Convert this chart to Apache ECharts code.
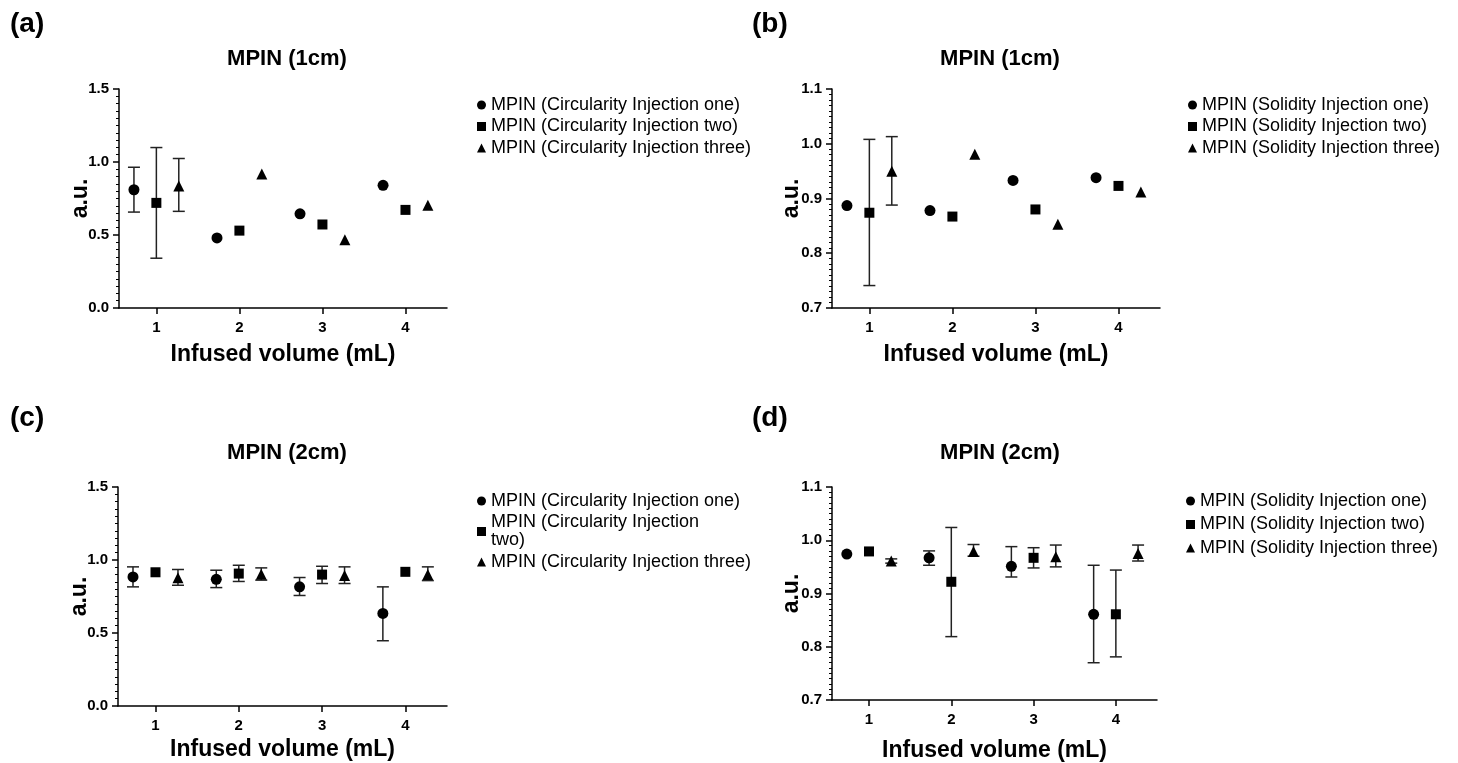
<!DOCTYPE html>
<html>
<head>
<meta charset="utf-8">
<script src="https://cdn.jsdelivr.net/npm/echarts@6/dist/echarts.min.js"></script>
<style>
html,body{margin:0;padding:0;background:#fff;}
#chart{width:1458px;height:763px;}
</style>
</head>
<body>
<div id="chart"></div>
<script>
// ---------- DATA ----------
const volumes = [1, 2, 3, 4];
const xTickLabels = [1, 2, 3, 4];

const panelLetters = ['(a)', '(b)', '(c)', '(d)'];
const panelTitles = ['MPIN (1cm)', 'MPIN (1cm)', 'MPIN (2cm)', 'MPIN (2cm)'];
const xAxisTitle = 'Infused volume (mL)';
const yAxisTitle = 'a.u.';

const circNames = ['MPIN (Circularity Injection one)', 'MPIN (Circularity Injection two)', 'MPIN (Circularity Injection three)'];
const solNames = ['MPIN (Solidity Injection one)', 'MPIN (Solidity Injection two)', 'MPIN (Solidity Injection three)'];

// Panel (a): circularity, 1cm
const aOne = [0.81, 0.48, 0.645, 0.84];
const aOneErr = [[0.657, 0.964], null, null, null];
const aTwo = [0.72, 0.53, 0.572, 0.672];
const aTwoErr = [[0.341, 1.099], null, null, null];
const aThree = [0.835, 0.918, 0.467, 0.703];
const aThreeErr = [[0.662, 1.024], null, null, null];

// Panel (b): solidity, 1cm
const bOne = [0.887, 0.878, 0.933, 0.938];
const bOneErr = [null, null, null, null];
const bTwo = [0.874, 0.867, 0.880, 0.923];
const bTwoErr = [[0.741, 1.008], null, null, null];
const bThree = [0.950, 0.981, 0.853, 0.912];
const bThreeErr = [[0.888, 1.013], null, null, null];

// Panel (c): circularity, 2cm
const cOne = [0.884, 0.868, 0.816, 0.634];
const cOneErr = [[0.816, 0.953], [0.811, 0.930], [0.757, 0.880], [0.447, 0.816]];
const cTwo = [0.916, 0.907, 0.900, 0.919];
const cTwoErr = [null, [0.853, 0.964], [0.839, 0.957], null];
const cThree = [0.878, 0.903, 0.894, 0.900];
const cThreeErr = [[0.827, 0.935], [0.862, 0.946], [0.839, 0.953], [0.859, 0.953]];

// Panel (d): solidity, 2cm
const dOne = [0.974, 0.967, 0.951, 0.861];
const dOneErr = [null, [0.953, 0.980], [0.931, 0.988], [0.770, 0.953]];
const dTwo = [0.979, 0.922, 0.967, 0.861];
const dTwoErr = [null, [0.819, 1.024], [0.948, 0.986], [0.781, 0.944]];
const dThree = [0.961, 0.979, 0.969, 0.975];
const dThreeErr = [[0.957, 0.965], [0.970, 0.992], [0.950, 0.991], [0.961, 0.991]];

const yRanges = [[0, 1.5, 0.5], [0.7, 1.1, 0.1], [0, 1.5, 0.5], [0.7, 1.1, 0.1]];

// ---------- LAYOUT / STYLE ----------
const FONT = '"Liberation Sans", Arial, sans-serif';
const DODGE = 0.27;
const symbols = ['circle', 'rect', 'triangle'];
const symbolSizes = [11, 10, 11];
const grids = [
  {left: 119, top: 89, width: 328, height: 219, outerBoundsMode: 'none'},
  {left: 832, top: 89, width: 328, height: 219, outerBoundsMode: 'none'},
  {left: 118, top: 487, width: 329, height: 219, outerBoundsMode: 'none'},
  {left: 832, top: 487, width: 325, height: 213, outerBoundsMode: 'none'}
];
const panels = [
  {names: circNames, vals: [aOne, aTwo, aThree], errs: [aOneErr, aTwoErr, aThreeErr]},
  {names: solNames, vals: [bOne, bTwo, bThree], errs: [bOneErr, bTwoErr, bThreeErr]},
  {names: circNames, vals: [cOne, cTwo, cThree], errs: [cOneErr, cTwoErr, cThreeErr]},
  {names: solNames, vals: [dOne, dTwo, dThree], errs: [dOneErr, dTwoErr, dThreeErr]}
];
const letterPos = [[5, 5], [747, 5], [5, 399], [747, 399]];
const titlePos = [[282, 43], [995, 43], [282, 437], [995, 437]];
const legendPos = [[472, 91], [1183, 91], [472, 487], [1181, 487]];
const xNameGap = [35, 35, 32, 39];
const yNameGap = [27, 29, 27, 29];

const titles = [];
panelLetters.forEach((t, i) => titles.push({
  text: t, left: letterPos[i][0], top: letterPos[i][1],
  textStyle: {fontFamily: FONT, fontSize: 28, fontWeight: 'bold', color: '#000'}
}));
panelTitles.forEach((t, i) => titles.push({
  text: t, left: titlePos[i][0], top: titlePos[i][1], textAlign: 'center',
  textStyle: {fontFamily: FONT, fontSize: 22, fontWeight: 'bold', color: '#000'}
}));

const xAxes = [], yAxes = [], series = [], legends = [];
grids.forEach((g, i) => {
  xAxes.push({
    type: 'value', gridIndex: i, min: 0.55, max: 4.5,
    name: xAxisTitle, nameLocation: 'middle', nameGap: xNameGap[i], nameMoveOverlap: false,
    nameTextStyle: {fontFamily: FONT, fontSize: 23, fontWeight: 'bold', color: '#000'},
    axisLine: {show: true, onZero: false, lineStyle: {color: '#000', width: 1.5}},
    axisTick: {show: true, length: 6, customValues: xTickLabels, lineStyle: {color: '#000', width: 1.5}},
    axisLabel: {customValues: xTickLabels, fontFamily: FONT, fontSize: 15, fontWeight: 'bold', color: '#000', margin: 12},
    splitLine: {show: false}
  });
  const r = yRanges[i];
  yAxes.push({
    type: 'value', gridIndex: i, min: r[0], max: r[1], interval: r[2],
    name: yAxisTitle, nameLocation: 'middle', nameGap: yNameGap[i], nameMoveOverlap: false,
    nameTextStyle: {fontFamily: FONT, fontSize: 23, fontWeight: 'bold', color: '#000'},
    axisLine: {show: true, onZero: false, lineStyle: {color: '#000', width: 1.5}},
    axisTick: {show: true, length: 6, lineStyle: {color: '#000', width: 1.5}},
    minorTick: {show: true, splitNumber: 10, length: 3, lineStyle: {color: '#000', width: 1}},
    axisLabel: {fontFamily: FONT, fontSize: 15, fontWeight: 'bold', color: '#000', margin: 10,
      formatter: v => v.toFixed(1)},
    splitLine: {show: false}
  });
  const p = panels[i];
  for (let k = 0; k < 3; k++) {
    const errData = [];
    p.errs[k].forEach((e, j) => { if (e) errData.push([volumes[j] + (k - 1) * DODGE, e[0], e[1]]); });
    series.push({
      type: 'custom', name: 'err' + i + k, xAxisIndex: i, yAxisIndex: i, z: 1,
      silent: true, data: errData,
      renderItem: function (params, api) {
        const x = api.value(0);
        const lo = api.coord([x, api.value(1)]);
        const hi = api.coord([x, api.value(2)]);
        const cw = 6;
        const st = {stroke: '#222', lineWidth: 1.5};
        return {type: 'group', children: [
          {type: 'line', shape: {x1: lo[0], y1: lo[1], x2: hi[0], y2: hi[1]}, style: st},
          {type: 'line', shape: {x1: lo[0] - cw, y1: lo[1], x2: lo[0] + cw, y2: lo[1]}, style: st},
          {type: 'line', shape: {x1: hi[0] - cw, y1: hi[1], x2: hi[0] + cw, y2: hi[1]}, style: st}
        ]};
      }
    });
    series.push({
      type: 'scatter', name: p.names[k], xAxisIndex: i, yAxisIndex: i, z: 3,
      symbol: symbols[k], symbolSize: symbolSizes[k],
      itemStyle: {color: '#000', opacity: 1},
      data: p.vals[k].map((v, j) => [volumes[j] + (k - 1) * DODGE, v])
    });
  }
  legends.push({
    orient: 'vertical', left: legendPos[i][0], top: legendPos[i][1],
    itemWidth: 9, itemHeight: 9, itemGap: i === 3 ? 5.5 : 3.5, selectedMode: false,
    data: p.names.map((n, k) => ({name: n, icon: symbols[k]})),
    formatter: i === 2 ? (n => n === circNames[1] ? 'MPIN (Circularity Injection\ntwo)' : n) : '{name}',
    textStyle: {fontFamily: FONT, fontSize: 18, lineHeight: 18, color: '#000'}
  });
});

const chart = echarts.init(document.getElementById('chart'), null, {renderer: 'canvas'});
chart.setOption({
  animation: false,
  backgroundColor: '#fff',
  title: titles,
  grid: grids,
  xAxis: xAxes,
  yAxis: yAxes,
  legend: legends,
  series: series
});
</script>
</body>
</html>
